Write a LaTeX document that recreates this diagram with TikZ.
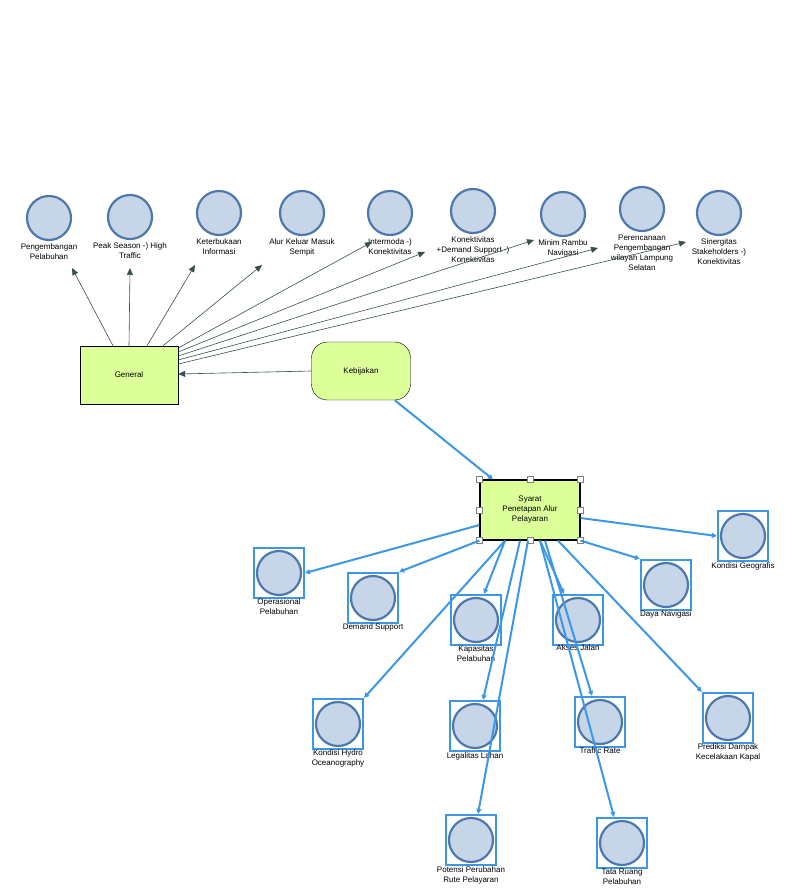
\documentclass[tikz,border=0pt]{standalone}
\usepackage{fontspec}
\setmainfont{Liberation Sans}
\usetikzlibrary{arrows.meta,calc}
\definecolor{bubble}{HTML}{C6D5E8}
\definecolor{rim}{HTML}{4F78AA}
\definecolor{lime}{HTML}{DDFF99}
\definecolor{sky}{HTML}{3D97E4}
\definecolor{slate}{HTML}{34504E}
\tikzset{
  every node/.style={font=\fontsize{8}{10}\selectfont},
  ball/.style={circle,draw=rim,line width=2.2pt,fill=bubble,minimum size=44pt,inner sep=0pt},
  frame/.style={rectangle,draw=sky,line width=2.2pt,minimum size=50pt,inner sep=0pt},
  caption/.style={align=center,inner sep=0pt},
  box/.style={rectangle,draw=black,fill=lime,align=center},
  handle/.style={rectangle,draw=gray,fill=white,minimum size=6pt,inner sep=0pt},
  gen/.style={-{Triangle[length=7pt,width=6pt]},draw=slate,line width=0.6pt},
  link/.style={-{Triangle[length=5pt,width=5pt]},draw=sky,line width=2pt},
}
\newcommand{\topball}[4]{%
  \node[ball] (#1) at (#2) {};
  \node[caption,anchor=north] (#1-l) at ($(#1)+(0,#3)$) {#4};}
\newcommand{\lowball}[4]{%
  \node[frame] (#1) at (#2) {};
  \node[ball] at (#2) {};
  \node[caption,anchor=north] (#1-l) at ($(#1)+(0,#3)$) {#4};}
\begin{document}
\begin{tikzpicture}[x=1pt,y=-1pt]
\useasboundingbox (0,0) rectangle (794,895);
% top row
\topball{pengembangan}{49,218}{25}{Pengembangan\\Pelabuhan}
\topball{peak}{130,217}{25}{Peak Season -) High\\Traffic}
\topball{keterbukaan}{219,213}{25}{Keterbukaan\\Informasi}
\topball{alur}{302,213}{25}{Alur Keluar Masuk\\Sempit}
\topball{intermoda}{390,213}{25}{Intermoda -)\\Konektivitas}
\topball{konektivitas}{473,211}{25}{Konektivitas\\+Demand Support -)\\Konektivitas}
\topball{rambu}{563,214}{25}{Minim Rambu\\Navigasi}
\topball{perencanaan}{642,209}{26}{Perencanaan\\Pengembangan\\wilayah Lampung\\Selatan}
\topball{sinergitas}{719,213}{25}{Sinergitas\\Stakeholders -)\\Konektivitas}
% general and kebijakan
\node[box,minimum width=98pt,minimum height=58pt] (general) at (129,375) {General};
\node[box,rounded corners=16pt,minimum width=99pt,minimum height=58pt] (kebijakan) at (361,371) {Kebijakan};
\draw[gen] (kebijakan.west) -- (general.east |- 0,374);
\coordinate (t1) at (72,268);  \coordinate (t2) at (130,268);
\coordinate (t3) at (195,265); \coordinate (t4) at (262,265);
\coordinate (t5) at (372,242); \coordinate (t6) at (425,252);
\coordinate (t7) at (534,240); \coordinate (t8) at (598,248);
\coordinate (t9) at (686,242);
\draw[gen] (general.north -| 113,0) -- (t1);
\draw[gen] (general.north -| 129,0) -- (t2);
\draw[gen] (general.north -| 147,0) -- (t3);
\draw[gen] (general.north -| 163,0) -- (t4);
\foreach \t/\y in {t5/348,t6/352,t7/356,t8/360,t9/364}
  \draw[gen] (general.east |- 0,\y) -- (\t);
% syarat
\node[box,line width=1.2pt,minimum width=100pt,minimum height=60pt] (syarat) at (530,510) {Syarat\\Penetapan Alur\\Pelayaran};
\draw[link] (kebijakan.south east) ++(-16,0) -- (syarat.north west -| 493,0);
\foreach \a in {north west,north,north east,west,east,south west,south,south east}
  \node[handle] at (syarat.\a) {};
% bottom nodes
\lowball{operasional}{279,573}{25}{Operasional\\Pelabuhan}
\lowball{demand}{373,598}{25}{Demand Support}
\lowball{kapasitas}{476,620}{25}{Kapasitas\\Pelabuhan}
\lowball{akses}{578,620}{24}{Akses Jalan}
\lowball{daya}{666,585}{25}{Daya Navigasi}
\lowball{geografis}{743,536}{26}{Kondisi Geografis}
\lowball{hydro}{338,724}{25}{Kondisi Hydro\\Oceanography}
\lowball{legalitas}{475,726}{26}{Legalitas Lahan}
\lowball{traffic}{600,722}{25}{Traffic Rate}
\lowball{prediksi}{728,718}{25}{Prediksi Dampak\\Kecelakaan Kapal}
\lowball{potensi}{471,840}{26}{Potensi Perubahan\\Rute Pelayaran}
\lowball{tata}{622,843}{26}{Tata Ruang\\Pelabuhan}
\draw[link] (syarat.west |- 0,525) -- (operasional.east);
\draw[link] (syarat.south west) -- (demand.north east);
\draw[link] (syarat.south -| 505,0) -- (kapasitas.north -| 484,0);
\draw[link] (syarat.south -| 540,0) -- (akses.north -| 564,0);
\draw[link] (syarat.south east) -- (daya.north west);
\draw[link] (syarat.east |- 0,518) -- (geografis.west);
\draw[link] (syarat.south -| 505,0) -- (hydro.north east);
\draw[link] (syarat.south -| 520,0) -- (legalitas.north -| 483,0);
\draw[link] (syarat.south -| 545,0) -- (traffic.north -| 592,0);
\draw[link] (syarat.south -| 558,0) -- (prediksi.north west);
\draw[link] (syarat.south -| 528,0) -- (potensi.north -| 478,0);
\draw[link] (syarat.south -| 540,0) -- (tata.north -| 614,0);
\end{tikzpicture}
\end{document}
